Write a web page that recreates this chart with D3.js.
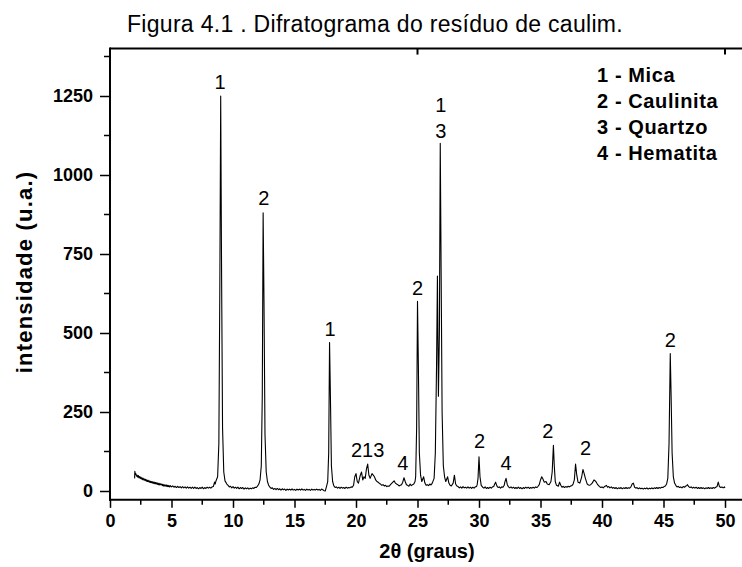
<!DOCTYPE html>
<html>
<head>
<meta charset="utf-8">
<script src="https://cdn.jsdelivr.net/npm/d3@7"></script>
<style>
  html, body { margin: 0; padding: 0; background: #fff; }
  svg { display: block; font-family: "Liberation Sans", Arial, sans-serif; }
</style>
</head>
<body>
<svg id="chart" width="742" height="567"></svg>
<script>
// Diffraction pattern of the kaolin residue: [2θ (degrees), intensity (a.u.)]
const background = [
  [2.00, 40], [2.02, 62], [2.06, 52], [2.10, 55], [2.15, 47], [2.20, 50], [2.25, 44], [2.30, 49],
  [2.35, 42], [2.40, 46], [2.45, 40], [2.50, 44], [2.55, 38], [2.60, 42], [2.65, 36], [2.70, 40],
  [2.75, 35], [2.80, 38], [2.85, 33], [2.90, 37], [2.95, 31], [3.00, 35], [3.05, 30], [3.10, 34],
  [3.15, 29], [3.20, 32], [3.25, 27], [3.30, 31], [3.35, 26], [3.40, 30], [3.45, 25], [3.50, 29],
  [3.55, 24], [3.60, 28], [3.65, 23], [3.70, 27], [3.75, 22], [3.80, 26], [3.85, 21], [3.90, 25],
  [3.95, 20], [4.00, 24], [4.05, 19], [4.10, 23], [4.15, 20], [4.20, 22], [4.25, 17], [4.30, 21],
  [4.35, 16], [4.40, 20], [4.45, 16], [4.50, 19], [4.55, 15], [4.60, 19], [4.65, 14], [4.70, 18],
  [4.75, 14], [4.80, 17], [4.85, 13], [4.90, 17], [5.00, 13], [5.10, 16], [5.20, 12], [5.30, 15],
  [5.40, 11], [5.50, 15], [5.60, 11], [5.70, 14], [5.80, 10], [5.90, 14], [6.00, 10], [6.10, 13],
  [6.20, 9], [6.30, 13], [6.40, 9], [6.50, 12], [6.60, 8], [6.70, 12], [6.80, 8], [6.90, 12],
  [7.00, 8], [7.10, 11], [7.20, 7], [7.30, 11], [7.40, 8], [7.50, 12], [7.60, 7], [7.70, 11],
  [7.80, 8], [7.90, 12], [8.00, 9], [8.10, 12], [8.20, 9], [8.30, 13], [8.40, 14]
];
const micaRegion = [
  [8.50, 28], [8.55, 22], [8.60, 30], [8.75, 45], [8.85, 150], [8.93, 650], [9.00, 1250],
  [9.07, 700], [9.15, 200], [9.25, 60], [9.35, 32], [9.50, 22], [9.60, 18], [9.70, 13],
  [9.80, 15], [9.90, 10], [10.0, 14], [10.1, 9], [10.2, 12], [10.3, 8], [10.4, 12], [10.5, 7],
  [10.6, 11], [10.7, 8], [10.8, 11], [10.9, 6], [11.0, 10], [11.1, 7], [11.2, 10], [11.3, 6],
  [11.4, 9], [11.5, 7], [11.6, 10], [11.7, 8], [11.8, 12], [11.9, 11], [12.0, 16]
];
const kaoliniteRegion = [
  [12.10, 22], [12.20, 35], [12.30, 80], [12.38, 300], [12.45, 880], [12.52, 600], [12.60, 180],
  [12.70, 60], [12.80, 30], [12.90, 18], [13.0, 12], [13.1, 8], [13.2, 10], [13.3, 5], [13.4, 8],
  [13.5, 4], [13.6, 8], [13.7, 4], [13.8, 7], [13.9, 3], [14.0, 7], [14.1, 4], [14.2, 6],
  [14.3, 2], [14.4, 6], [14.5, 3], [14.6, 6], [14.7, 3], [14.8, 7], [14.9, 3], [15.0, 5],
  [15.1, 2], [15.2, 6], [15.3, 3], [15.4, 6], [15.5, 3], [15.6, 7], [15.7, 3], [15.8, 5],
  [15.9, 2], [16.0, 6], [16.1, 3], [16.2, 5], [16.3, 2], [16.4, 6], [16.5, 3], [16.6, 5],
  [16.7, 3], [16.8, 6], [16.9, 3], [17.0, 5], [17.1, 2], [17.2, 6], [17.3, 4], [17.4, 1],
  [17.5, 0], [17.6, 14]
];
const midRegion = [
  [17.70, 30], [17.78, 120], [17.85, 470], [17.92, 300], [18.00, 80], [18.10, 30], [18.20, 16],
  [18.3, 11], [18.4, 13], [18.5, 9], [18.6, 12], [18.7, 8], [18.8, 12], [18.9, 9], [19.0, 11],
  [19.1, 8], [19.2, 12], [19.3, 9], [19.4, 11], [19.5, 10], [19.6, 13], [19.7, 12], [19.8, 18],
  [19.90, 45], [20.00, 55], [20.10, 30], [20.20, 25], [20.35, 50], [20.45, 60], [20.55, 35],
  [20.65, 45], [20.75, 40], [20.85, 70], [20.95, 85], [21.05, 50], [21.15, 40], [21.30, 55],
  [21.40, 50], [21.50, 45], [21.60, 35], [21.70, 30], [21.80, 28], [21.90, 24], [22.00, 22],
  [22.10, 18], [22.20, 20], [22.30, 16], [22.40, 18], [22.50, 14], [22.60, 16], [22.70, 15],
  [22.80, 20], [22.90, 24], [23.00, 28], [23.10, 32], [23.20, 25], [23.30, 22], [23.40, 20],
  [23.50, 16], [23.60, 18], [23.70, 20], [23.80, 28], [23.90, 42], [24.00, 30], [24.10, 20],
  [24.20, 18], [24.30, 15], [24.40, 22], [24.50, 17], [24.60, 20], [24.70, 22], [24.80, 30]
];
const quartzRegion = [
  [24.85, 45], [24.93, 200], [25.00, 600], [25.07, 400], [25.15, 120], [25.25, 50], [25.35, 30],
  [25.50, 45], [25.60, 25], [25.70, 18], [25.80, 20], [25.90, 17], [26.00, 22], [26.10, 19],
  [26.20, 25], [26.35, 40], [26.45, 120], [26.55, 400], [26.62, 680], [26.70, 300], [26.78, 500],
  [26.85, 1100], [26.92, 700], [27.00, 250], [27.10, 80], [27.20, 45], [27.30, 30], [27.45, 45],
  [27.55, 25], [27.65, 18], [27.75, 16], [27.90, 25], [28.00, 50], [28.10, 22], [28.20, 16],
  [28.3, 14], [28.4, 10], [28.5, 13], [28.6, 9], [28.7, 14], [28.8, 10], [28.9, 12], [29.0, 9],
  [29.1, 13], [29.2, 9], [29.3, 12], [29.4, 8], [29.5, 12], [29.6, 9], [29.7, 13], [29.8, 14],
  [29.85, 20]
];
const highRegion = [
  [29.92, 40], [30.00, 108], [30.08, 45], [30.18, 18], [30.3, 12], [30.4, 9], [30.5, 13],
  [30.6, 8], [30.7, 11], [30.8, 8], [30.9, 12], [31.0, 9], [31.1, 13], [31.2, 14], [31.25, 20],
  [31.35, 28], [31.45, 16], [31.55, 11], [31.65, 13], [31.75, 9], [31.85, 13], [31.95, 12],
  [32.05, 18], [32.1, 28], [32.2, 40], [32.3, 20], [32.4, 13], [32.5, 10], [32.6, 13], [32.7, 9],
  [32.8, 12], [32.9, 8], [33.0, 11], [33.1, 8], [33.2, 12], [33.3, 8], [33.4, 11], [33.5, 7],
  [33.6, 11], [33.7, 8], [33.8, 12], [33.9, 9], [34.0, 12], [34.1, 8], [34.2, 11], [34.3, 9],
  [34.4, 12], [34.5, 9], [34.6, 13], [34.7, 11], [34.8, 15], [34.9, 20], [35.0, 35], [35.1, 45],
  [35.2, 38], [35.3, 28], [35.45, 30], [35.55, 22], [35.7, 20], [35.85, 30], [35.95, 60],
  [36.05, 145], [36.12, 80], [36.2, 30], [36.3, 18], [36.45, 15], [36.55, 28], [36.65, 18],
  [36.75, 12], [36.85, 15], [36.95, 11], [37.05, 14], [37.15, 12], [37.25, 15], [37.35, 13],
  [37.45, 16], [37.55, 17], [37.65, 22], [37.75, 35], [37.85, 85], [37.95, 50], [38.05, 28],
  [38.2, 25], [38.35, 45], [38.45, 68], [38.55, 55], [38.65, 40], [38.8, 22], [38.9, 19],
  [39.0, 18], [39.1, 21], [39.2, 25], [39.35, 35], [39.5, 30], [39.65, 20], [39.8, 14],
  [39.9, 11], [40.0, 13], [40.1, 10], [40.2, 14], [40.3, 16], [40.35, 18], [40.45, 12],
  [40.55, 14], [40.65, 10], [40.75, 13], [40.85, 9], [40.95, 11], [41.05, 8], [41.15, 11],
  [41.25, 7], [41.35, 10], [41.45, 8], [41.55, 11], [41.65, 7], [41.75, 10], [41.85, 8],
  [41.95, 11], [42.05, 8], [42.15, 10], [42.25, 9], [42.35, 13], [42.45, 22], [42.55, 25],
  [42.65, 12], [42.75, 9], [42.85, 11], [42.95, 7], [43.05, 10], [43.15, 7], [43.25, 9],
  [43.35, 6], [43.45, 9], [43.55, 7], [43.65, 10], [43.75, 6], [43.85, 9], [43.95, 7],
  [44.05, 10], [44.15, 7], [44.25, 10], [44.35, 8], [44.45, 11], [44.55, 8], [44.65, 11],
  [44.75, 9], [44.85, 12], [44.95, 11], [45.05, 14], [45.15, 16], [45.25, 22], [45.35, 40],
  [45.45, 150], [45.55, 435], [45.62, 300], [45.7, 120], [45.8, 45], [45.9, 25], [46.0, 18],
  [46.1, 13], [46.2, 15], [46.3, 11], [46.4, 13], [46.5, 10], [46.6, 14], [46.7, 12], [46.8, 15],
  [46.9, 18], [46.95, 20], [47.05, 14], [47.15, 11], [47.25, 13], [47.35, 9], [47.45, 12],
  [47.55, 9], [47.65, 12], [47.75, 8], [47.85, 11], [47.95, 8], [48.05, 11], [48.15, 8],
  [48.25, 10], [48.35, 7], [48.45, 10], [48.55, 8], [48.65, 11], [48.75, 8], [48.85, 10],
  [48.95, 8], [49.05, 11], [49.15, 9], [49.25, 12], [49.35, 14], [49.45, 28], [49.55, 14],
  [49.65, 11], [49.75, 13], [49.85, 10], [49.95, 13], [50.0, 10]
];

// Phase labels placed over the peaks: [2θ, intensity at label baseline, text]
const peakLabels = [
  [8.94, 1272, "1"], [12.5, 905, "2"], [17.9, 490, "1"], [20.95, 108, "213"], [23.8, 66, "4"],
  [25.0, 620, "2"], [26.9, 1200, "1"], [26.9, 1118, "3"], [30.05, 136, "2"], [32.2, 66, "4"],
  [35.6, 168, "2"], [38.66, 114, "2"], [45.55, 455, "2"]
];
const legendItems = ["1 - Mica", "2 - Caulinita", "3 - Quartzo", "4 - Hematita"];

const xMajorTicks = [0, 5, 10, 15, 20, 25, 30, 35, 40, 45, 50];
const xMinorTicks = [2.5, 7.5, 12.5, 17.5, 22.5, 27.5, 32.5, 37.5, 42.5, 47.5];
const yMajorTicks = [0, 250, 500, 750, 1000, 1250];
const yMinorTicks = [125, 375, 625, 875, 1125, 1375];

const titleText = "Figura 4.1 . Difratograma do resíduo de caulim.";
const xTitle = "2θ (graus)";
const yTitle = "intensidade (u.a.)";

const pattern = [].concat(background, micaRegion, kaoliniteRegion, midRegion, quartzRegion, highRegion);

const svg = d3.select("#chart");
const x = d3.scaleLinear().domain([0, 50]).range([110, 725]);
const y = d3.scaleLinear().domain([0, 1250]).range([491, 96]);
const xEnd = 51.6, yBottom = -28, yTop = 1400;
const fontFamily = "Liberation Sans, Arial, sans-serif";

// Trace
svg.append("path")
  .datum(pattern)
  .attr("fill", "none")
  .attr("stroke", "#000")
  .attr("stroke-width", 1.1)
  .attr("stroke-linejoin", "round")
  .attr("d", d3.line().x(d => x(d[0])).y(d => y(d[1])));

// Frame: top edge with inward ticks
const frame = svg.append("g").attr("stroke", "#000").attr("stroke-width", 2);
frame.append("line").attr("x1", x(0)).attr("x2", x(xEnd)).attr("y1", y(yTop)).attr("y2", y(yTop));
[0, 25, 50].forEach(v => frame.append("line")
  .attr("x1", x(v)).attr("x2", x(v)).attr("y1", y(yTop)).attr("y2", y(yTop) + 6));

// Bottom axis
const yAxisPos = y(yBottom);
const xAxis = svg.append("g").attr("transform", `translate(0,${yAxisPos})`)
  .call(d3.axisBottom(x).tickValues(xMajorTicks).tickSize(8).tickPadding(6).tickFormat(d3.format("d")));
xAxis.select(".domain").remove();
xAxis.append("line").attr("x1", x(0) - 1).attr("x2", x(xEnd)).attr("stroke", "#000").attr("stroke-width", 2);
xAxis.selectAll(".tick line").attr("stroke-width", 1.5);
xAxis.selectAll(".minor").data(xMinorTicks).enter().append("line")
  .attr("x1", d => x(d)).attr("x2", d => x(d)).attr("y1", 0).attr("y2", 5)
  .attr("stroke", "#000").attr("stroke-width", 1.5);
xAxis.selectAll("text").attr("font-size", 18).attr("font-weight", "bold")
  .attr("font-family", fontFamily).attr("fill", "#000");

// Left axis
const yAxis = svg.append("g").attr("transform", `translate(${x(0)},0)`)
  .call(d3.axisLeft(y).tickValues(yMajorTicks).tickSize(10).tickPadding(7).tickFormat(d3.format("d")));
yAxis.select(".domain").remove();
yAxis.append("line").attr("y1", y(yTop) - 1).attr("y2", y(yBottom) + 1).attr("stroke", "#000").attr("stroke-width", 2);
yAxis.selectAll(".tick line").attr("stroke-width", 1.5);
yAxis.selectAll(".minor").data(yMinorTicks).enter().append("line")
  .attr("y1", d => y(d)).attr("y2", d => y(d)).attr("x1", 0).attr("x2", -6)
  .attr("stroke", "#000").attr("stroke-width", 1.5);
yAxis.selectAll("text").attr("font-size", 18).attr("font-weight", "bold")
  .attr("font-family", fontFamily).attr("fill", "#000");

// Titles
svg.append("text").attr("x", 375).attr("y", 32).attr("text-anchor", "middle")
  .attr("font-size", 23).attr("letter-spacing", 0.3).text(titleText);
svg.append("text").attr("x", 427).attr("y", 558).attr("text-anchor", "middle")
  .attr("font-size", 20).attr("font-weight", "bold").text(xTitle);
svg.append("text").attr("transform", "translate(32,272) rotate(-90)").attr("text-anchor", "middle")
  .attr("font-size", 22).attr("font-weight", "bold").attr("letter-spacing", 1.2).text(yTitle);

// Peak labels
svg.append("g").selectAll("text").data(peakLabels).enter().append("text")
  .attr("x", d => x(d[0])).attr("y", d => y(d[1])).attr("text-anchor", "middle")
  .attr("font-size", 20).text(d => d[2]);

// Legend
svg.append("g").selectAll("text").data(legendItems).enter().append("text")
  .attr("x", 597).attr("y", (d, i) => 82 + i * 26)
  .attr("font-size", 20).attr("font-weight", "bold").attr("letter-spacing", 0.6).text(d => d);
</script>
</body>
</html>
